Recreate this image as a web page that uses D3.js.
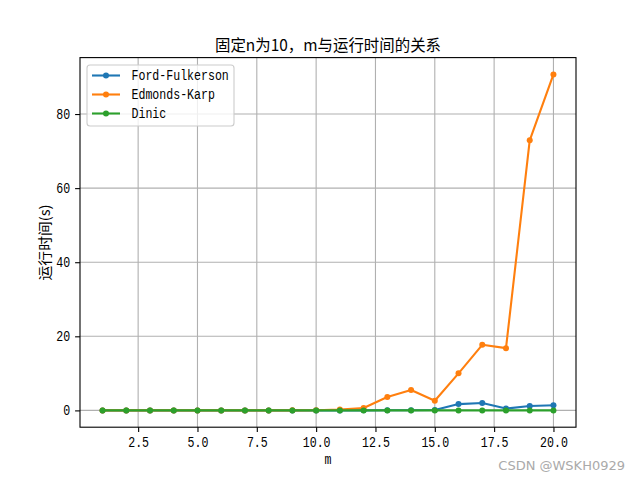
<!DOCTYPE html>
<html><head><meta charset="utf-8">
<script src="https://cdn.jsdelivr.net/npm/d3@7"></script>
<style>body{margin:0;background:#fff}svg{display:block}text{font-family:"Noto Sans CJK SC","DejaVu Sans",sans-serif;}</style>
</head><body><svg id="c" width="640" height="480"></svg>
<script>
const mValues = [1,2,3,4,5,6,7,8,9,10,11,12,13,14,15,16,17,18,19,20];
const fordFulkerson = [0,0,0,0,0,0,0,0,0,0,0,0.02,0.03,0.05,0.1,1.7,2.0,0.5,1.2,1.4];
const edmondsKarp = [0,0,0,0,0,0,0,0,0.01,0.05,0.25,0.65,3.6,5.5,2.6,10.0,17.7,16.8,72.9,90.7];
const dinic = [0,0,0,0,0,0,0,0,0,0,0,0,0,0,0,0,0,0,0,0];
const xTicks = [2.5,5.0,7.5,10.0,12.5,15.0,17.5,20.0];
const yTicks = [0,20,40,60,80];
const seriesNames = ["Ford-Fulkerson","Edmonds-Karp","Dinic"];
const colors = ["#1f77b4","#ff7f0e","#2ca02c"];
const titleText = "固定n为10，m与运行时间的关系";
const xLabel = "m";
const yLabel = "运行时间(s)";

const HALF = 6.95; // half-width glyph advance at 13.9px
const MONO = "'Liberation Mono','DejaVu Sans Mono',monospace";
function mono(sel){
  sel.style("font-family",MONO).attr("lengthAdjust","spacingAndGlyphs")
     .attr("textLength",function(){return this.textContent.length*HALF;});
}

const svg = d3.select("#c");
const L=80,R=576,T=57.6,B=427.2;
const allY = fordFulkerson.concat(edmondsKarp, dinic);
const ymin = d3.min(allY), ymax = d3.max(allY);
const x = d3.scaleLinear().domain([1-0.05*19, 20+0.05*19]).range([L,R]);
const y = d3.scaleLinear().domain([ymin-0.05*(ymax-ymin), ymax+0.05*(ymax-ymin)]).range([B,T]);

// grid
const g = svg.append("g");
g.selectAll(".gx").data(xTicks).enter().append("line")
 .attr("x1",d=>x(d)).attr("x2",d=>x(d)).attr("y1",T).attr("y2",B)
 .attr("stroke","#b0b0b0").attr("stroke-width",1.1);
g.selectAll(".gy").data(yTicks).enter().append("line")
 .attr("y1",d=>y(d)).attr("y2",d=>y(d)).attr("x1",L).attr("x2",R)
 .attr("stroke","#b0b0b0").attr("stroke-width",1.1);

// axes
const xa = svg.append("g").attr("transform",`translate(0,${B})`)
 .call(d3.axisBottom(x).tickValues(xTicks).tickFormat(d3.format(".1f")).tickSize(4.9).tickPadding(4.9));
const ya = svg.append("g").attr("transform",`translate(${L},0)`)
 .call(d3.axisLeft(y).tickValues(yTicks).tickFormat(d3.format("d")).tickSize(4.9).tickPadding(4.9));
[xa,ya].forEach(a=>{a.select(".domain").remove();
 a.selectAll("text").attr("font-size",14).attr("fill","#000").call(mono);
 a.selectAll("line").attr("stroke","#000").attr("stroke-width",1.1);});

// series
const data = [fordFulkerson, edmondsKarp, dinic];
const line = d3.line().x((d,i)=>x(mValues[i])).y(d=>y(d));
data.forEach((s,k)=>{
 svg.append("path").attr("d",line(s)).attr("fill","none").attr("stroke",colors[k]).attr("stroke-width",2.1).attr("stroke-linejoin","round").attr("stroke-linecap","square");
 svg.append("g").selectAll("circle").data(s).enter().append("circle")
  .attr("cx",(d,i)=>x(mValues[i])).attr("cy",d=>y(d)).attr("r",3).attr("fill",colors[k]);
});

// frame
svg.append("rect").attr("x",L).attr("y",T).attr("width",R-L).attr("height",B-T)
 .attr("fill","none").attr("stroke","#000").attr("stroke-width",1.1);

// legend
const lg = svg.append("g");
lg.append("rect").attr("x",87).attr("y",65).attr("width",147).attr("height",61).attr("rx",3)
 .attr("fill","#fff").attr("fill-opacity",0.8).attr("stroke","#cccccc").attr("stroke-width",1.1);
seriesNames.forEach((n,k)=>{
 const yy = 75.5 + k*19;
 lg.append("line").attr("x1",92).attr("x2",120).attr("y1",yy).attr("y2",yy).attr("stroke",colors[k]).attr("stroke-width",2.1);
 lg.append("circle").attr("cx",106).attr("cy",yy).attr("r",3).attr("fill",colors[k]);
 lg.append("text").attr("x",131.5).attr("y",yy).attr("dy","0.35em").attr("font-size",14).text(n).call(mono);
});

// titles
svg.append("text").attr("x",(L+R)/2).attr("y",51).attr("text-anchor","middle").attr("font-size",16.2)
 .attr("textLength",226).attr("lengthAdjust","spacingAndGlyphs").text(titleText);
svg.append("text").attr("x",(L+R)/2).attr("y",464).attr("text-anchor","middle").attr("font-size",14).text(xLabel).call(mono);
svg.append("text").attr("transform",`translate(50,${(T+B)/2}) rotate(-90)`).attr("text-anchor","middle").attr("font-size",14)
 .attr("textLength",76).attr("lengthAdjust","spacingAndGlyphs").text(yLabel);

// watermark
svg.append("text").attr("x",625).attr("y",470).attr("text-anchor","end").attr("font-size",13).attr("fill","#aaaaaa").style("font-family","'DejaVu Sans',sans-serif").text("CSDN @WSKH0929");
</script></body></html>
